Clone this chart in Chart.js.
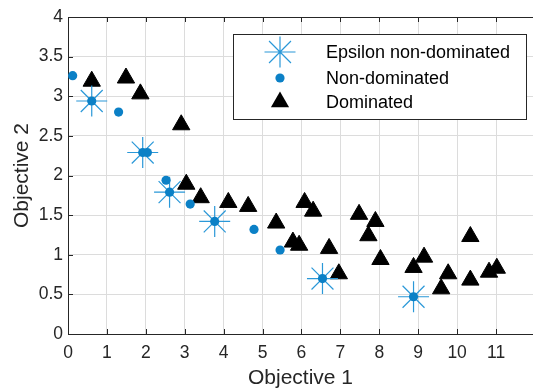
<!DOCTYPE html>
<html><head><meta charset="utf-8">
<script src="https://cdn.jsdelivr.net/npm/chart.js@4"></script>
<style>html,body{margin:0;padding:0;background:#fff}#c{display:block}</style>
</head><body>
<canvas id="c" width="533" height="391"></canvas>
<script>
const X_TICKS = [0,1,2,3,4,5,6,7,8,9,10,11];
const Y_TICKS = [0,0.5,1,1.5,2,2.5,3,3.5,4];
const SERIES_NAMES = ['Epsilon non-dominated','Non-dominated','Dominated'];

const EPS_X = [0.61, 1.92, 2.61, 3.77, 6.54, 8.88];
const EPS_Y = [2.94, 2.29, 1.79, 1.42, 0.70, 0.47];

const ND_X = [0.12, 0.61, 1.30, 1.92, 2.04, 2.52, 2.61, 3.14, 3.77, 4.78, 5.45, 6.54, 8.88];
const ND_Y = [3.26, 2.94, 2.80, 2.29, 2.29, 1.94, 1.79, 1.64, 1.42, 1.32, 1.06, 0.70, 0.47];

const DOM_X = [0.61, 1.49, 1.86, 2.91, 3.04, 3.41, 4.12, 4.63, 5.35, 5.78, 5.94, 6.08, 6.30, 6.71, 6.96, 7.48, 7.90, 7.72, 8.03, 8.88, 9.15, 9.59, 9.77, 10.34, 10.34, 10.82, 11.02];
const DOM_Y = [3.19, 3.23, 3.03, 2.64, 1.89, 1.72, 1.66, 1.61, 1.40, 1.16, 1.12, 1.66, 1.55, 1.08, 0.76, 1.51, 1.42, 1.24, 0.94, 0.84, 0.97, 0.57, 0.76, 1.23, 0.68, 0.78, 0.83];

const BLUE = '#0b80c6';
const STAR_BLUE = '#2a98d8';
const INK = '#262626';
const FONT = '"Liberation Sans", Arial, sans-serif';

const pts = (xs, ys) => xs.map((x, i) => ({x, y: ys[i]}));

function drawMarker(ctx, style, x, y) {
  ctx.save();
  if (style === 'star') {
    ctx.strokeStyle = STAR_BLUE; ctx.lineWidth = 1.2;
    ctx.beginPath();
    const r = 15.5;
    for (let k = 0; k < 4; k++) {
      const a = k * Math.PI / 4;
      ctx.moveTo(x - Math.cos(a) * r, y - Math.sin(a) * r);
      ctx.lineTo(x + Math.cos(a) * r, y + Math.sin(a) * r);
    }
    ctx.stroke();
  } else if (style === 'circle') {
    ctx.fillStyle = BLUE;
    ctx.beginPath(); ctx.arc(x, y, 4.6, 0, Math.PI * 2); ctx.fill();
  } else {
    ctx.fillStyle = '#000';
    const r = 10.5;
    ctx.beginPath();
    ctx.moveTo(x, y - r);
    ctx.lineTo(x + Math.sin(2*Math.PI/3) * r, y + r / 2);
    ctx.lineTo(x - Math.sin(2*Math.PI/3) * r, y + r / 2);
    ctx.closePath(); ctx.fill();
  }
  ctx.restore();
}

const frame = {
  id: 'frame',
  afterDraw(chart) {
    const {ctx, chartArea: a, scales: {x, y}} = chart;
    ctx.save();
    ctx.strokeStyle = INK; ctx.lineWidth = 1;
    ctx.beginPath();
    ctx.moveTo(a.left, a.top + 0.5); ctx.lineTo(a.right, a.top + 0.5);
    const tl = 5;
    X_TICKS.forEach(v => {
      const px = Math.round(x.getPixelForValue(v)) + 0.5;
      ctx.moveTo(px, a.bottom); ctx.lineTo(px, a.bottom - tl);
      ctx.moveTo(px, a.top); ctx.lineTo(px, a.top + tl);
    });
    Y_TICKS.forEach(v => {
      const py = Math.round(y.getPixelForValue(v)) + 0.5;
      ctx.moveTo(a.left, py); ctx.lineTo(a.left + tl, py);
    });
    ctx.stroke();

    // legend
    const L = {x: 233, y: 34, w: 293, h: 85};
    ctx.fillStyle = '#fff';
    ctx.fillRect(L.x, L.y, L.w, L.h);
    ctx.strokeStyle = INK;
    ctx.strokeRect(L.x + 0.5, L.y + 0.5, L.w, L.h);
    const styles = ['star', 'circle', 'triangle'];
    const rows = [52, 78, 102];
    ctx.font = '18px ' + FONT;
    ctx.textBaseline = 'middle';
    SERIES_NAMES.forEach((n, i) => {
      drawMarker(ctx, styles[i], 280, rows[i]);
      ctx.fillStyle = '#000';
      ctx.fillText(n, 326, rows[i] + 1);
    });
    ctx.restore();
  }
};

new Chart(document.getElementById('c'), {
  type: 'scatter',
  data: {
    datasets: [
      {label: SERIES_NAMES[1], data: pts(ND_X, ND_Y), pointStyle: 'circle', pointRadius: 4.6, backgroundColor: BLUE, borderColor: BLUE, borderWidth: 0, order: 1},
      {label: SERIES_NAMES[0], data: pts(EPS_X, EPS_Y), pointStyle: 'star', pointRadius: 15.5, borderColor: STAR_BLUE, backgroundColor: STAR_BLUE, borderWidth: 1.2, order: 2},
      {label: SERIES_NAMES[2], data: pts(DOM_X, DOM_Y), pointStyle: 'triangle', pointRadius: 10, backgroundColor: '#000', borderColor: '#000', borderWidth: 1, order: 3}
    ]
  },
  options: {
    responsive: false, animation: false,
    devicePixelRatio: 1,
    layout: {autoPadding: false, padding: {left: 0, right: 0, top: 17, bottom: 0}},
    plugins: {legend: {display: false}, tooltip: {enabled: false}},
    scales: {
      x: {
        type: 'linear', min: 0, max: 11.95,
        afterBuildTicks: s => { s.ticks = X_TICKS.map(v => ({value: v})); },
        afterFit: s => { s.height = 57; s.paddingLeft = 0; s.paddingRight = 0; },
        grid: {color: '#dcdcdc', drawTicks: false},
        border: {color: INK, width: 1},
        ticks: {color: INK, font: {family: FONT, size: 17.5}, padding: 9, maxRotation: 0, autoSkip: false},
        title: {display: true, text: 'Objective 1', color: INK, font: {family: FONT, size: 21}, padding: {top: 3, bottom: 0}}
      },
      y: {
        type: 'linear', min: 0, max: 4,
        afterBuildTicks: s => { s.ticks = Y_TICKS.map(v => ({value: v})); },
        afterFit: s => { s.width = 68; s.paddingTop = 0; s.paddingBottom = 0; },
        grid: {color: '#dcdcdc', drawTicks: false},
        border: {color: INK, width: 1},
        ticks: {color: INK, font: {family: FONT, size: 17.5}, padding: 5, autoSkip: false, callback: v => String(v)},
        title: {display: true, text: 'Objective 2', color: INK, font: {family: FONT, size: 21}, padding: {top: 10, bottom: 0}}
      }
    }
  },
  plugins: [frame]
});
</script>
</body></html>
